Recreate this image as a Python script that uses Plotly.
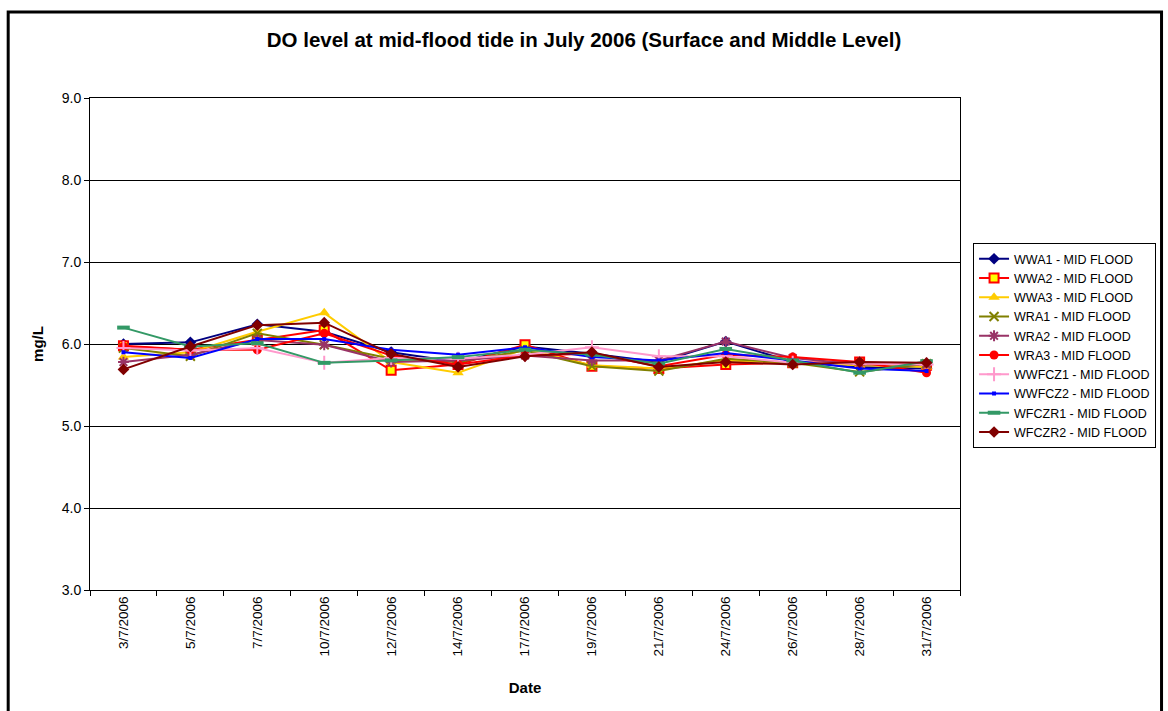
import plotly.graph_objects as go

# Sampling dates (July 2006)
dates = ["3/7/2006", "5/7/2006", "7/7/2006", "10/7/2006", "12/7/2006", "14/7/2006",
         "17/7/2006", "19/7/2006", "21/7/2006", "24/7/2006", "26/7/2006", "28/7/2006",
         "31/7/2006"]

# Dissolved oxygen (mg/L) at mid-flood tide, surface and middle level
wwa1 = [6.00, 6.02, 6.24, 6.15, 5.90, 5.78, 5.97, 5.88, 5.78, 6.03, 5.78, 5.72, 5.70]
wwa2 = [5.98, 5.93, 6.05, 6.17, 5.68, 5.75, 5.99, 5.73, 5.70, 5.75, 5.77, 5.78, 5.74]
wwa3 = [5.84, 5.90, 6.15, 6.38, 5.78, 5.65, 5.94, 5.74, 5.70, 5.80, 5.77, 5.74, 5.72]
wra1 = [5.95, 5.85, 6.13, 5.99, 5.82, 5.78, 5.92, 5.73, 5.67, 5.82, 5.77, 5.66, 5.76]
wra2 = [5.78, 5.87, 6.05, 5.99, 5.78, 5.80, 5.86, 5.80, 5.80, 6.03, 5.83, 5.75, 5.75]
wra3 = [5.97, 5.93, 5.93, 6.13, 5.86, 5.75, 5.86, 5.88, 5.73, 5.87, 5.84, 5.78, 5.65]
wwfcz1 = [5.95, 5.92, 5.95, 5.77, 5.83, 5.82, 5.87, 5.96, 5.85, 5.85, 5.77, 5.76, 5.75]
wwfcz2 = [5.90, 5.83, 6.06, 6.06, 5.93, 5.87, 5.96, 5.84, 5.80, 5.89, 5.80, 5.70, 5.67]
wfczr1 = [6.20, 5.97, 6.01, 5.77, 5.80, 5.84, 5.93, 5.87, 5.76, 5.94, 5.80, 5.65, 5.79]
wfczr2 = [5.69, 5.97, 6.23, 6.26, 5.88, 5.72, 5.85, 5.90, 5.72, 5.78, 5.75, 5.78, 5.77]

y_ticks = [3.0, 4.0, 5.0, 6.0, 7.0, 8.0, 9.0]

series = [
    ("WWA1 - MID FLOOD", wwa1, "#000080", dict(symbol="diamond", size=9, color="#000080")),
    ("WWA2 - MID FLOOD", wwa2, "#FF0000", dict(symbol="square", size=9, color="#FFFF00",
                                               line=dict(color="#FF0000", width=2))),
    ("WWA3 - MID FLOOD", wwa3, "#FFCC00", dict(symbol="triangle-up", size=10, color="#FFCC00")),
    ("WRA1 - MID FLOOD", wra1, "#808000", dict(symbol="x-thin", size=9,
                                               line=dict(color="#808000", width=2))),
    ("WRA2 - MID FLOOD", wra2, "#993366", dict(symbol="asterisk", size=9,
                                               line=dict(color="#993366", width=2))),
    ("WRA3 - MID FLOOD", wra3, "#FF0000", dict(symbol="circle", size=9, color="#FF0000")),
    ("WWFCZ1 - MID FLOOD", wwfcz1, "#FF99CC", dict(symbol="cross-thin", size=10,
                                                   line=dict(color="#FF99CC", width=2))),
    ("WWFCZ2 - MID FLOOD", wwfcz2, "#0000FF", dict(symbol="square", size=4, color="#0000FF")),
    ("WFCZR1 - MID FLOOD", wfczr1, "#339966", dict(symbol="line-ew", size=9,
                                                   line=dict(color="#339966", width=4))),
    ("WFCZR2 - MID FLOOD", wfczr2, "#800000", dict(symbol="diamond", size=9, color="#800000")),
]

fig = go.Figure()
for name, vals, col, mk in series:
    fig.add_trace(go.Scatter(
        x=dates, y=vals, name=name, mode="lines+markers",
        line=dict(color=col, width=2), marker=mk,
    ))

fig.update_layout(
    width=1168, height=711,
    margin=dict(l=90, r=206, t=98, b=121),
    paper_bgcolor="white", plot_bgcolor="white",
    font=dict(family="Arial, Liberation Sans, sans-serif", color="black", size=14),
    title=dict(text="<b>DO level at mid-flood tide in July 2006 (Surface and Middle Level)</b>",
               x=0.5, xref="container", y=1 - 40 / 711, yanchor="middle", xanchor="center",
               font=dict(size=20.5)),
    showlegend=True,
    legend=dict(x=1.015, y=0.705, xanchor="left", yanchor="top",
                bgcolor="white", bordercolor="black", borderwidth=1,
                font=dict(size=12.5), tracegroupgap=0, itemwidth=30),
    xaxis=dict(
        type="category", range=[-0.5, 12.5], tickangle=-90, tickfont=dict(size=13.5),
        showline=True, linecolor="black", linewidth=1, mirror=True,
        ticks="outside", tickson="boundaries", ticklen=5, tickcolor="black",
        showgrid=False,
        title=dict(text="<b>Date</b>", font=dict(size=15), standoff=27),
    ),
    yaxis=dict(
        range=[3.0, 9.0], tickvals=y_ticks,
        ticktext=[f"{v:.1f}" for v in y_ticks], tickfont=dict(size=14),
        showline=True, linecolor="black", linewidth=1, mirror=True,
        ticks="outside", ticklen=5, tickcolor="black",
        showgrid=True, gridcolor="black", gridwidth=1, zeroline=False,
        title=dict(text="<b>mg/L</b>", font=dict(size=15), standoff=14),
    ),
    shapes=[dict(type="rect", xref="paper", yref="paper",
                 x0=-82 / 872, x1=1 + 202 / 872, y0=-130 / 492, y1=1 + 86 / 492,
                 line=dict(color="black", width=3), fillcolor="rgba(0,0,0,0)", layer="below")],
)

fig.write_html("out.html")
